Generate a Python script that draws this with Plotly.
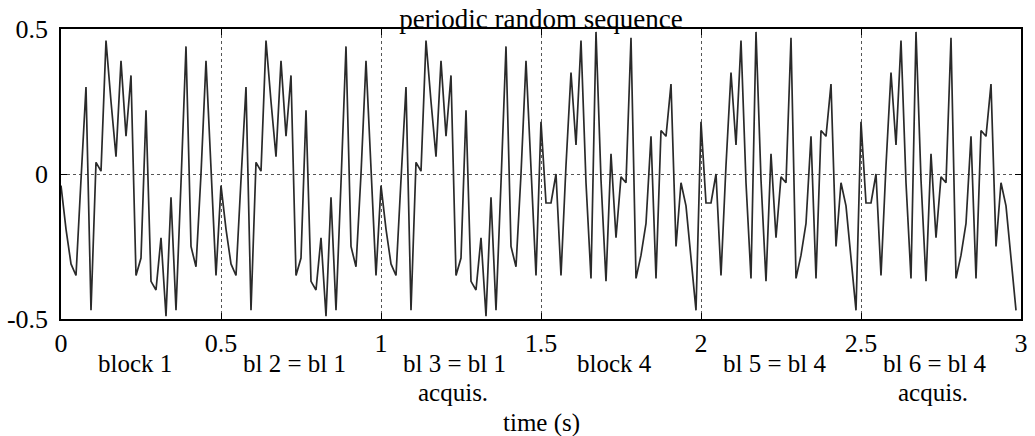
import numpy as np
import plotly.graph_objects as go

# ---- data ----
samples_per_block = 32
block_duration = 0.5  # seconds

# one period of the random sequence used for blocks 1-3
block1 = [-0.04, -0.19, -0.31, -0.35, -0.02, 0.30, -0.47, 0.04,
          0.01, 0.46, 0.25, 0.06, 0.39, 0.13, 0.34, -0.35,
          -0.29, 0.22, -0.37, -0.40, -0.22, -0.49, -0.08, -0.47,
          -0.03, 0.44, -0.25, -0.32, 0.00, 0.39, 0.02, -0.35]

# second period used for blocks 4-6
block4 = [0.18, -0.10, -0.10, 0.00, -0.35, 0.03, 0.35, 0.10,
          0.46, -0.03, -0.36, 0.49, -0.02, -0.37, 0.07, -0.22,
          -0.01, -0.03, 0.47, -0.36, -0.28, -0.17, 0.13, -0.36,
          0.15, 0.13, 0.31, -0.25, -0.03, -0.11, -0.29, -0.47]

block_sources = [block1, block1, block1, block4, block4, block4]
block_labels = ["block 1", "bl 2 = bl 1", "bl 3 = bl 1",
                "block 4", "bl 5 = bl 4", "bl 6 = bl 4"]
acquis_blocks = [2, 5]

x_tick_vals = [0, 0.5, 1, 1.5, 2, 2.5, 3]
x_tick_text = ["0", "0.5", "1", "1.5", "2", "2.5", "3"]
y_tick_vals = [-0.5, 0, 0.5]
y_tick_text = ["-0.5", "0", "0.5"]

title_text = "periodic random sequence"
x_label = "time (s)"

# ---- build ----
signal = np.concatenate([np.array(b) for b in block_sources])
t = np.arange(len(signal)) * block_duration / samples_per_block

FONT = "Liberation Serif, Times New Roman, serif"
FS = 26
FS_LAB = 25

fig = go.Figure()
fig.add_trace(go.Scatter(x=t, y=signal, mode="lines",
                         line=dict(color="#2a2a2a", width=1.7),
                         showlegend=False, hoverinfo="skip"))

annotations = []
for i, lab in enumerate(block_labels):
    cx = i * block_duration + block_duration / 2 - 0.02
    annotations.append(dict(x=cx, y=-0.155, xref="x", yref="paper",
                            text=lab, showarrow=False, xanchor="center",
                            yanchor="middle", borderpad=0,
                            font=dict(family=FONT, size=FS_LAB, color="black")))
for i in acquis_blocks:
    cx = i * block_duration + block_duration / 2 - 0.025
    annotations.append(dict(x=cx, y=-0.255, xref="x", yref="paper",
                            text="acquis.", showarrow=False, xanchor="center",
                            yanchor="middle", borderpad=0,
                            font=dict(family=FONT, size=FS_LAB, color="black")))
annotations.append(dict(x=1.5, y=-0.36, xref="x", yref="paper",
                        text=x_label, showarrow=False, xanchor="center",
                        yanchor="middle", borderpad=0,
                        font=dict(family=FONT, size=FS_LAB, color="black")))

fig.update_layout(
    width=1035, height=436,
    margin=dict(l=59, r=7, t=29, b=117),
    paper_bgcolor="white", plot_bgcolor="white",
    font=dict(family=FONT, size=FS, color="black"),
    title=dict(text=title_text, x=0.5, xref="paper", xanchor="center",
               y=1 - 19 / 436, yref="container", yanchor="middle",
               font=dict(family=FONT, size=27, color="black")),
    annotations=annotations,
)
fig.update_xaxes(range=[0, 3], tickvals=x_tick_vals, ticktext=x_tick_text,
                 ticks="inside", ticklen=6, tickwidth=1, tickcolor="black",
                 showline=True, linecolor="black", linewidth=1.5, mirror="ticks",
                 showgrid=True, gridcolor="#555", gridwidth=1, griddash="dot",
                 zeroline=False, ticklabelstandoff=0,
                 tickfont=dict(family=FONT, size=FS, color="black"))
fig.update_yaxes(range=[-0.5, 0.5], tickvals=y_tick_vals, ticktext=y_tick_text,
                 ticks="inside", ticklen=6, tickwidth=1, tickcolor="black",
                 showline=True, linecolor="black", linewidth=1.5, mirror="ticks",
                 showgrid=True, gridcolor="#555", gridwidth=1, griddash="dot",
                 zeroline=False, ticklabelstandoff=6,
                 tickfont=dict(family=FONT, size=FS, color="black"))

fig.write_html("out.html")
